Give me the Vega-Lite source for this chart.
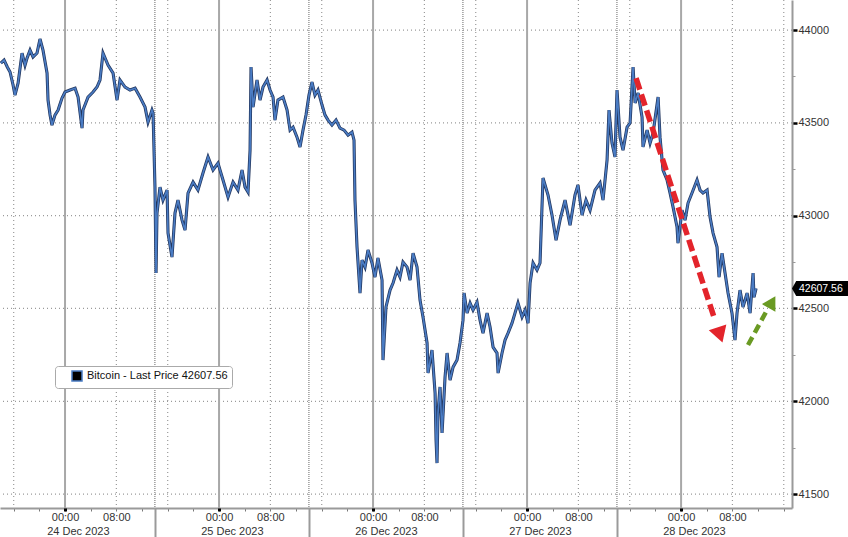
{
"$schema": "https://vega.github.io/schema/vega-lite/v6.json",
"width": 792, "height": 508,
"autosize": {"type": "none"},
"padding": {"left": 0, "top": 0, "right": 56, "bottom": 29},
"background": "white",
"config": {"view": {"stroke": null}, "font": "Liberation Sans"},
"datasets": {
"price": [
{"t":"2023-12-23T14:00","p":43822},{"t":"2023-12-23T14:30","p":43838},{"t":"2023-12-23T15:00","p":43801},{"t":"2023-12-23T15:26","p":43774},{"t":"2023-12-23T15:54","p":43704},{"t":"2023-12-23T16:12","p":43650},{"t":"2023-12-23T16:41","p":43714},{"t":"2023-12-23T17:18","p":43876},{"t":"2023-12-23T17:46","p":43811},{"t":"2023-12-23T18:05","p":43849},{"t":"2023-12-23T18:33","p":43892},{"t":"2023-12-23T19:01","p":43855},{"t":"2023-12-23T19:38","p":43876},{"t":"2023-12-23T20:06","p":43952},{"t":"2023-12-23T20:34","p":43892},{"t":"2023-12-23T21:12","p":43768},{"t":"2023-12-23T21:21","p":43623},{"t":"2023-12-23T21:40","p":43542},{"t":"2023-12-23T21:58","p":43488},{"t":"2023-12-23T22:26","p":43542},{"t":"2023-12-23T22:55","p":43569},{"t":"2023-12-23T23:32","p":43634},
{"t":"2023-12-24T00:00","p":43666},{"t":"2023-12-24T00:47","p":43677},{"t":"2023-12-24T01:34","p":43687},{"t":"2023-12-24T02:02","p":43639},{"t":"2023-12-24T02:39","p":43472},{"t":"2023-12-24T02:48","p":43569},{"t":"2023-12-24T03:35","p":43639},{"t":"2023-12-24T04:22","p":43666},{"t":"2023-12-24T04:59","p":43693},{"t":"2023-12-24T05:27","p":43731},{"t":"2023-12-24T05:55","p":43876},{"t":"2023-12-24T06:42","p":43811},{"t":"2023-12-24T07:29","p":43768},{"t":"2023-12-24T08:06","p":43623},{"t":"2023-12-24T08:34","p":43731},{"t":"2023-12-24T09:21","p":43693},{"t":"2023-12-24T10:08","p":43677},{"t":"2023-12-24T10:55","p":43687},{"t":"2023-12-24T11:41","p":43639},{"t":"2023-12-24T12:28","p":43585},{"t":"2023-12-24T12:56","p":43504},{"t":"2023-12-24T13:33","p":43569},{"t":"2023-12-24T13:43","p":43553},{"t":"2023-12-24T14:01","p":43154},{"t":"2023-12-24T14:11","p":42691},{"t":"2023-12-24T14:20","p":43014},{"t":"2023-12-24T14:48","p":43154},{"t":"2023-12-24T15:16","p":43084},{"t":"2023-12-24T15:54","p":43138},{"t":"2023-12-24T16:03","p":42906},{"t":"2023-12-24T16:40","p":42777},{"t":"2023-12-24T17:08","p":43014},{"t":"2023-12-24T17:36","p":43084},{"t":"2023-12-24T18:14","p":42976},{"t":"2023-12-24T18:42","p":42922},{"t":"2023-12-24T19:10","p":43122},{"t":"2023-12-24T19:57","p":43181},{"t":"2023-12-24T20:43","p":43138},{"t":"2023-12-24T21:30","p":43230},{"t":"2023-12-24T22:17","p":43316},{"t":"2023-12-24T23:04","p":43246},{"t":"2023-12-24T23:50","p":43283},
{"t":"2023-12-25T00:37","p":43192},{"t":"2023-12-25T01:24","p":43100},{"t":"2023-12-25T02:11","p":43181},{"t":"2023-12-25T02:57","p":43138},{"t":"2023-12-25T03:35","p":43246},{"t":"2023-12-25T04:03","p":43154},{"t":"2023-12-25T04:31","p":43127},{"t":"2023-12-25T04:50","p":43353},{"t":"2023-12-25T04:59","p":43801},{"t":"2023-12-25T05:18","p":43585},{"t":"2023-12-25T05:55","p":43731},{"t":"2023-12-25T06:23","p":43623},{"t":"2023-12-25T06:51","p":43693},{"t":"2023-12-25T07:29","p":43731},{"t":"2023-12-25T07:57","p":43677},{"t":"2023-12-25T08:25","p":43639},{"t":"2023-12-25T08:43","p":43515},{"t":"2023-12-25T09:11","p":43623},{"t":"2023-12-25T09:58","p":43639},{"t":"2023-12-25T10:36","p":43569},{"t":"2023-12-25T11:04","p":43461},{"t":"2023-12-25T11:32","p":43477},{"t":"2023-12-25T12:09","p":43423},{"t":"2023-12-25T12:37","p":43370},{"t":"2023-12-25T13:05","p":43461},{"t":"2023-12-25T13:33","p":43542},{"t":"2023-12-25T14:01","p":43650},{"t":"2023-12-25T14:29","p":43720},{"t":"2023-12-25T14:57","p":43650},{"t":"2023-12-25T15:25","p":43677},{"t":"2023-12-25T16:03","p":43596},{"t":"2023-12-25T16:31","p":43542},{"t":"2023-12-25T16:59","p":43515},{"t":"2023-12-25T17:36","p":43488},{"t":"2023-12-25T18:14","p":43515},{"t":"2023-12-25T18:51","p":43472},{"t":"2023-12-25T19:29","p":43461},{"t":"2023-12-25T20:06","p":43434},{"t":"2023-12-25T20:43","p":43450},{"t":"2023-12-25T21:02","p":43407},{"t":"2023-12-25T21:11","p":43084},{"t":"2023-12-25T21:30","p":42831},{"t":"2023-12-25T21:58","p":42583},{"t":"2023-12-25T22:17","p":42761},{"t":"2023-12-25T22:45","p":42723},{"t":"2023-12-25T23:13","p":42815},{"t":"2023-12-25T23:50","p":42745},
{"t":"2023-12-26T00:18","p":42669},{"t":"2023-12-26T00:46","p":42772},{"t":"2023-12-26T01:24","p":42653},{"t":"2023-12-26T01:33","p":42222},{"t":"2023-12-26T02:01","p":42508},{"t":"2023-12-26T02:39","p":42599},{"t":"2023-12-26T03:07","p":42637},{"t":"2023-12-26T03:44","p":42707},{"t":"2023-12-26T04:12","p":42669},{"t":"2023-12-26T04:40","p":42750},{"t":"2023-12-26T05:18","p":42723},{"t":"2023-12-26T05:46","p":42653},{"t":"2023-12-26T06:14","p":42798},{"t":"2023-12-26T06:51","p":42723},{"t":"2023-12-26T07:19","p":42545},{"t":"2023-12-26T07:47","p":42454},{"t":"2023-12-26T08:25","p":42314},{"t":"2023-12-26T08:34","p":42152},{"t":"2023-12-26T09:11","p":42276},{"t":"2023-12-26T09:40","p":42044},{"t":"2023-12-26T09:49","p":41791},{"t":"2023-12-26T09:58","p":41667},{"t":"2023-12-26T10:07","p":41936},{"t":"2023-12-26T10:26","p":42077},{"t":"2023-12-26T10:45","p":41829},{"t":"2023-12-26T11:13","p":42130},{"t":"2023-12-26T11:32","p":42260},{"t":"2023-12-26T12:00","p":42114},{"t":"2023-12-26T12:28","p":42184},{"t":"2023-12-26T13:05","p":42222},{"t":"2023-12-26T13:33","p":42314},{"t":"2023-12-26T14:01","p":42437},{"t":"2023-12-26T14:11","p":42583},{"t":"2023-12-26T14:39","p":42475},{"t":"2023-12-26T15:07","p":42529},{"t":"2023-12-26T15:35","p":42491},{"t":"2023-12-26T16:12","p":42534},{"t":"2023-12-26T16:40","p":42437},{"t":"2023-12-26T17:08","p":42367},{"t":"2023-12-26T17:46","p":42475},{"t":"2023-12-26T18:14","p":42400},{"t":"2023-12-26T18:42","p":42292},{"t":"2023-12-26T19:19","p":42260},{"t":"2023-12-26T19:29","p":42152},{"t":"2023-12-26T20:06","p":42260},{"t":"2023-12-26T20:34","p":42330},{"t":"2023-12-26T21:02","p":42367},{"t":"2023-12-26T21:39","p":42421},{"t":"2023-12-26T22:07","p":42475},{"t":"2023-12-26T22:35","p":42529},{"t":"2023-12-26T23:13","p":42454},{"t":"2023-12-26T23:41","p":42491},
{"t":"2023-12-27T00:09","p":42421},{"t":"2023-12-27T00:28","p":42637},{"t":"2023-12-27T00:56","p":42745},{"t":"2023-12-27T01:33","p":42707},{"t":"2023-12-27T02:01","p":42745},{"t":"2023-12-27T02:29","p":43203},{"t":"2023-12-27T03:16","p":43111},{"t":"2023-12-27T03:53","p":43003},{"t":"2023-12-27T04:31","p":42868},{"t":"2023-12-27T05:08","p":42976},{"t":"2023-12-27T05:55","p":43084},{"t":"2023-12-27T06:42","p":42949},{"t":"2023-12-27T07:28","p":43111},{"t":"2023-12-27T07:56","p":43165},{"t":"2023-12-27T08:34","p":43003},{"t":"2023-12-27T09:11","p":43084},{"t":"2023-12-27T09:49","p":43030},{"t":"2023-12-27T10:35","p":43138},{"t":"2023-12-27T11:22","p":43176},{"t":"2023-12-27T11:50","p":43084},{"t":"2023-12-27T12:28","p":43300},{"t":"2023-12-27T12:46","p":43569},{"t":"2023-12-27T13:14","p":43391},{"t":"2023-12-27T13:42","p":43316},{"t":"2023-12-27T14:01","p":43677},{"t":"2023-12-27T14:29","p":43423},{"t":"2023-12-27T14:57","p":43353},{"t":"2023-12-27T15:35","p":43477},{"t":"2023-12-27T16:03","p":43499},{"t":"2023-12-27T16:31","p":43801},{"t":"2023-12-27T16:50","p":43607},{"t":"2023-12-27T17:18","p":43661},{"t":"2023-12-27T17:55","p":43531},{"t":"2023-12-27T18:04","p":43370},{"t":"2023-12-27T18:42","p":43461},{"t":"2023-12-27T19:10","p":43391},{"t":"2023-12-27T19:38","p":43445},{"t":"2023-12-27T20:25","p":43639},{"t":"2023-12-27T20:43","p":43423},{"t":"2023-12-27T21:11","p":43246},{"t":"2023-12-27T21:49","p":43192},{"t":"2023-12-27T22:17","p":43122},{"t":"2023-12-27T22:45","p":43046},{"t":"2023-12-27T23:22","p":42939},{"t":"2023-12-27T23:31","p":42852},
{"t":"2023-12-28T00:09","p":43030},{"t":"2023-12-28T00:37","p":42976},{"t":"2023-12-28T01:05","p":43068},{"t":"2023-12-28T01:42","p":43122},{"t":"2023-12-28T02:29","p":43192},{"t":"2023-12-28T02:57","p":43138},{"t":"2023-12-28T03:25","p":43122},{"t":"2023-12-28T04:03","p":43138},{"t":"2023-12-28T04:31","p":42992},{"t":"2023-12-28T04:59","p":42906},{"t":"2023-12-28T05:36","p":42831},{"t":"2023-12-28T05:55","p":42669},{"t":"2023-12-28T06:23","p":42798},{"t":"2023-12-28T06:51","p":42691},{"t":"2023-12-28T07:19","p":42583},{"t":"2023-12-28T07:56","p":42475},{"t":"2023-12-28T08:24","p":42330},{"t":"2023-12-28T08:43","p":42475},{"t":"2023-12-28T09:11","p":42599},{"t":"2023-12-28T09:39","p":42508},{"t":"2023-12-28T10:17","p":42583},{"t":"2023-12-28T10:45","p":42475},{"t":"2023-12-28T11:13","p":42691},{"t":"2023-12-28T11:22","p":42561},{"t":"2023-12-28T11:41","p":42607.56}
],
"hgrid": [{"p":41500},{"p":42000},{"p":42500},{"p":43000},{"p":43500},{"p":44000}],
"dotgrid": [{"t":"2023-12-23T16:00"},{"t":"2023-12-24T08:00"},{"t":"2023-12-24T16:00"},{"t":"2023-12-25T08:00"},{"t":"2023-12-25T16:00"},{"t":"2023-12-26T08:00"},{"t":"2023-12-26T16:00"},{"t":"2023-12-27T08:00"},{"t":"2023-12-27T16:00"},{"t":"2023-12-28T08:00"},{"t":"2023-12-28T16:00"}],
"daygrid": [{"t":"2023-12-24T00:00"},{"t":"2023-12-25T00:00"},{"t":"2023-12-26T00:00"},{"t":"2023-12-27T00:00"},{"t":"2023-12-28T00:00"}],
"sessions": [{"t":"2023-12-24T14:00"},{"t":"2023-12-25T14:00"},{"t":"2023-12-26T14:00"},{"t":"2023-12-27T14:00"}],
"red": [{"t":"2023-12-27T16:59","p":43741},{"t":"2023-12-28T05:17","p":42437}],
"redhead": [{"t":"2023-12-28T06:04","p":42357}],
"green": [{"t":"2023-12-28T10:26","p":42303},{"t":"2023-12-28T13:14","p":42481}],
"greenhead": [{"t":"2023-12-28T14:10","p":42534}],
"last": [{"t":"2023-12-28T17:17","p":42607.56,"label":"42607.56"}]
},
"layer": [
{
"data": {"name": "hgrid"},
"mark": {"type": "rule", "color": "#9a9a9a", "strokeDash": [1, 3], "strokeWidth": 1.2},
"encoding": {
"y": {"field": "p", "type": "quantitative",
"scale": {"domain": [41425, 44162], "nice": false, "zero": false},
"axis": {"orient": "right", "title": null,
"values": [41500, 42000, 42500, 43000, 43500, 44000], "format": "d",
"labelFont": "Liberation Sans", "labelFontSize": 11, "labelColor": "#333", "labelPadding": 1,
"tickSize": 5, "tickColor": "#000", "tickWidth": 2.5,
"domainColor": "#9a9a9a", "domainWidth": 2, "grid": false}}
}
},
{
"data": {"name": "dotgrid"},
"mark": {"type": "rule", "color": "#9a9a9a", "strokeDash": [1, 3], "strokeWidth": 1.2},
"encoding": {
"x": {"field": "t", "type": "temporal",
"scale": {"domain": [{"year":2023,"month":12,"date":23,"hours":13,"minutes":52},{"year":2023,"month":12,"date":28,"hours":17,"minutes":17}]},
"axis": {"orient": "bottom", "title": null,
"values": [{"year":2023,"month":12,"date":23,"hours":16},{"year":2023,"month":12,"date":23,"hours":20},
{"year":2023,"month":12,"date":24,"hours":0},{"year":2023,"month":12,"date":24,"hours":4},{"year":2023,"month":12,"date":24,"hours":8},{"year":2023,"month":12,"date":24,"hours":12},{"year":2023,"month":12,"date":24,"hours":16},{"year":2023,"month":12,"date":24,"hours":20},
{"year":2023,"month":12,"date":25,"hours":0},{"year":2023,"month":12,"date":25,"hours":4},{"year":2023,"month":12,"date":25,"hours":8},{"year":2023,"month":12,"date":25,"hours":12},{"year":2023,"month":12,"date":25,"hours":16},{"year":2023,"month":12,"date":25,"hours":20},
{"year":2023,"month":12,"date":26,"hours":0},{"year":2023,"month":12,"date":26,"hours":4},{"year":2023,"month":12,"date":26,"hours":8},{"year":2023,"month":12,"date":26,"hours":12},{"year":2023,"month":12,"date":26,"hours":16},{"year":2023,"month":12,"date":26,"hours":20},
{"year":2023,"month":12,"date":27,"hours":0},{"year":2023,"month":12,"date":27,"hours":4},{"year":2023,"month":12,"date":27,"hours":8},{"year":2023,"month":12,"date":27,"hours":12},{"year":2023,"month":12,"date":27,"hours":16},{"year":2023,"month":12,"date":27,"hours":20},
{"year":2023,"month":12,"date":28,"hours":0},{"year":2023,"month":12,"date":28,"hours":4},{"year":2023,"month":12,"date":28,"hours":8},{"year":2023,"month":12,"date":28,"hours":12},{"year":2023,"month":12,"date":28,"hours":16}],
"labelExpr": "hours(datum.value)==0 ? '00:00' : (hours(datum.value)==8 ? '08:00' : '')",
"labelOverlap": false, "labelFlush": false, "labelFont": "Liberation Sans", "labelFontSize": 11, "labelColor": "#333", "labelPadding": 0,
"tickSize": 3, "tickColor": "#777", "tickWidth": 1,
"domainColor": "#9a9a9a", "domainWidth": 2, "grid": false}}
}
},
{
"data": {"name": "daygrid"},
"mark": {"type": "rule", "color": "#a8a8a8", "strokeWidth": 2},
"encoding": {
"x": {"field": "t", "type": "temporal",
"scale": {"domain": [{"year":2023,"month":12,"date":23,"hours":13,"minutes":52},{"year":2023,"month":12,"date":28,"hours":17,"minutes":17}]},
"axis": {"orient": "bottom", "title": null,
"values": [{"year":2023,"month":12,"date":24,"hours":0},{"year":2023,"month":12,"date":25,"hours":0},{"year":2023,"month":12,"date":26,"hours":0},{"year":2023,"month":12,"date":27,"hours":0},{"year":2023,"month":12,"date":28,"hours":0}],
"labels": false, "domain": false, "grid": false, "tickSize": 3, "tickColor": "#000", "tickWidth": 3}}
}
},
{
"data": {"name": "sessions"},
"mark": {"type": "rule", "color": "#9a9a9a", "strokeDash": [1, 1], "strokeWidth": 1.5},
"encoding": {
"x": {"field": "t", "type": "temporal",
"scale": {"domain": [{"year":2023,"month":12,"date":23,"hours":13,"minutes":52},{"year":2023,"month":12,"date":28,"hours":17,"minutes":17}]},
"axis": {"orient": "bottom", "title": null,
"values": [{"year":2023,"month":12,"date":24,"hours":14},{"year":2023,"month":12,"date":25,"hours":14},{"year":2023,"month":12,"date":26,"hours":14},{"year":2023,"month":12,"date":27,"hours":14}],
"labels": false, "domain": false, "grid": false, "tickSize": 29, "tickColor": "#9a9a9a", "tickWidth": 2}}
}
},
{
"data": {"name": "price"},
"mark": {"type": "line", "color": "#22365e", "strokeWidth": 3.1},
"encoding": {
"x": {"field": "t", "type": "temporal", "axis": null,
"scale": {"domain": [{"year":2023,"month":12,"date":23,"hours":13,"minutes":52},{"year":2023,"month":12,"date":28,"hours":17,"minutes":17}]}},
"y": {"field": "p", "type": "quantitative",
"scale": {"domain": [41425, 44162], "nice": false, "zero": false},
"axis": {"orient": "right", "title": null, "values": [41750, 42250, 42750, 43250, 43750],
"labels": false, "domain": false, "grid": false, "tickSize": 3, "tickColor": "#999", "tickWidth": 1}}
}
},
{
"data": {"name": "price"},
"mark": {"type": "line", "strokeWidth": 1.6},
"encoding": {
"x": {"field": "t", "type": "temporal", "axis": null,
"scale": {"domain": [{"year":2023,"month":12,"date":23,"hours":13,"minutes":52},{"year":2023,"month":12,"date":28,"hours":17,"minutes":17}]}},
"y": {"field": "p", "type": "quantitative", "axis": null,
"scale": {"domain": [41425, 44162], "nice": false, "zero": false}},
"color": {"datum": "Bitcoin - Last Price 42607.56", "type": "nominal",
"scale": {"range": ["#4a7cc4"]},
"legend": {"orient": "none", "legendX": 55, "legendY": 366, "title": null,
"symbolType": "square", "symbolSize": 100, "symbolFillColor": "black", "symbolStrokeColor": "black",
"symbolOffset": 12,
"fillColor": "white", "strokeColor": "#aaaaaa", "padding": 4, "cornerRadius": 3,
"labelFont": "Liberation Sans", "labelFontSize": 11, "labelColor": "#111"}}
}
},
{
"data": {"name": "red"},
"mark": {"type": "line", "color": "#e3242b", "strokeWidth": 5.5, "strokeDash": [12, 5], "strokeCap": "butt"},
"encoding": {
"x": {"field": "t", "type": "temporal",
"scale": {"domain": [{"year":2023,"month":12,"date":23,"hours":13,"minutes":52},{"year":2023,"month":12,"date":28,"hours":17,"minutes":17}]},
"axis": {"orient": "bottom", "title": null,
"values": [{"year":2023,"month":12,"date":24,"hours":2},{"year":2023,"month":12,"date":25,"hours":2},{"year":2023,"month":12,"date":26,"hours":2},{"year":2023,"month":12,"date":27,"hours":2},{"year":2023,"month":12,"date":28,"hours":2}],
"format": "%d %b %Y", "labelFont": "Liberation Sans", "labelFontSize": 11, "labelColor": "#333",
"labelPadding": 17, "ticks": false, "domain": false, "grid": false, "labelOverlap": false, "labelFlush": false}},
"y": {"field": "p", "type": "quantitative", "axis": null,
"scale": {"domain": [41425, 44162], "nice": false, "zero": false}}
}
},
{
"data": {"name": "redhead"},
"mark": {"type": "point", "shape": "triangle-up", "filled": true, "color": "#e3242b", "size": 340, "angle": 162, "opacity": 1},
"encoding": {
"x": {"field": "t", "type": "temporal", "axis": null,
"scale": {"domain": [{"year":2023,"month":12,"date":23,"hours":13,"minutes":52},{"year":2023,"month":12,"date":28,"hours":17,"minutes":17}]}},
"y": {"field": "p", "type": "quantitative", "axis": null,
"scale": {"domain": [41425, 44162], "nice": false, "zero": false}}
}
},
{
"data": {"name": "green"},
"mark": {"type": "line", "color": "#6a9a23", "strokeWidth": 4.5, "strokeDash": [9, 5], "strokeCap": "butt"},
"encoding": {
"x": {"field": "t", "type": "temporal", "axis": null,
"scale": {"domain": [{"year":2023,"month":12,"date":23,"hours":13,"minutes":52},{"year":2023,"month":12,"date":28,"hours":17,"minutes":17}]}},
"y": {"field": "p", "type": "quantitative", "axis": null,
"scale": {"domain": [41425, 44162], "nice": false, "zero": false}}
}
},
{
"data": {"name": "greenhead"},
"mark": {"type": "point", "shape": "triangle-up", "filled": true, "color": "#6a9a23", "size": 240, "angle": 30, "opacity": 1},
"encoding": {
"x": {"field": "t", "type": "temporal", "axis": null,
"scale": {"domain": [{"year":2023,"month":12,"date":23,"hours":13,"minutes":52},{"year":2023,"month":12,"date":28,"hours":17,"minutes":17}]}},
"y": {"field": "p", "type": "quantitative", "axis": null,
"scale": {"domain": [41425, 44162], "nice": false, "zero": false}}
}
},
{
"data": {"name": "last"},
"mark": {"type": "point", "shape": "M0,0 L0.15,-0.27 L2,-0.27 L2,0.27 L0.15,0.27 Z", "filled": true, "color": "#000", "size": 3136, "opacity": 1},
"encoding": {
"x": {"field": "t", "type": "temporal", "axis": null,
"scale": {"domain": [{"year":2023,"month":12,"date":23,"hours":13,"minutes":52},{"year":2023,"month":12,"date":28,"hours":17,"minutes":17}]}},
"y": {"field": "p", "type": "quantitative", "axis": null,
"scale": {"domain": [41425, 44162], "nice": false, "zero": false}}
}
},
{
"data": {"name": "last"},
"mark": {"type": "text", "color": "white", "font": "Liberation Sans", "fontSize": 10.5, "align": "left", "baseline": "middle", "dx": 7},
"encoding": {
"x": {"field": "t", "type": "temporal", "axis": null,
"scale": {"domain": [{"year":2023,"month":12,"date":23,"hours":13,"minutes":52},{"year":2023,"month":12,"date":28,"hours":17,"minutes":17}]}},
"y": {"field": "p", "type": "quantitative", "axis": null,
"scale": {"domain": [41425, 44162], "nice": false, "zero": false}},
"text": {"field": "label"}
}
}
],
"resolve": {"axis": {"x": "independent", "y": "independent"}}
}
